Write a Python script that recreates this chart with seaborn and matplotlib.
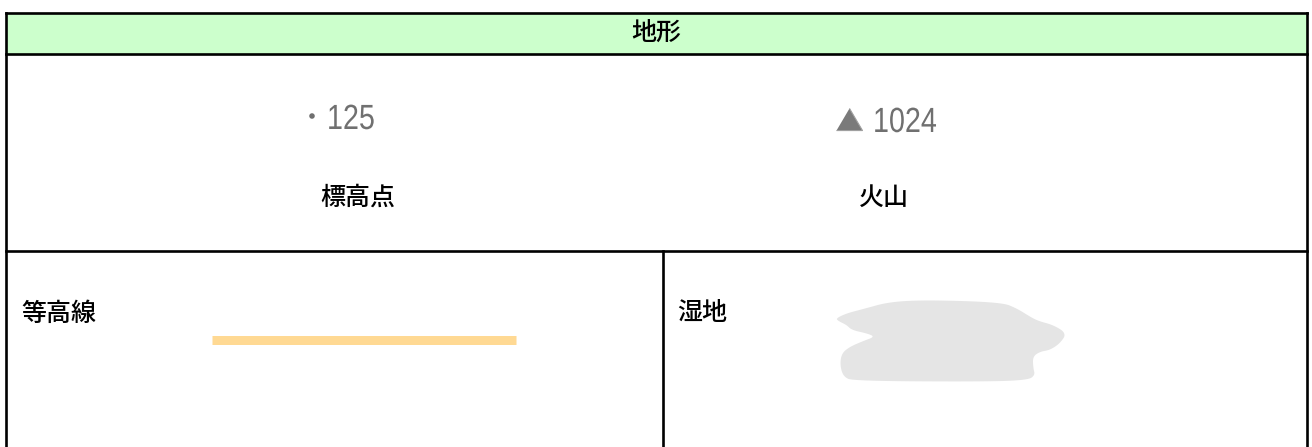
import matplotlib
matplotlib.use("Agg")
import matplotlib.pyplot as plt
from matplotlib.textpath import TextPath
from matplotlib.patches import PathPatch
from matplotlib.font_manager import FontProperties
from matplotlib.transforms import Affine2D
import seaborn as sns
import pandas as pd
import numpy as np

sns.set_theme(style="white")
plt.rcParams['font.family'] = ['Noto Sans CJK JP', 'DejaVu Sans']

# ---- content ----
title = "地形"
point_labels = ["標高点", "火山"]
point_values = ["125", "1024"]
line_label = "等高線"
area_label = "湿地"

# ---- figure in pixel coordinates ----
W, H = 1312, 447
fig = plt.figure(figsize=(W / 100, H / 100), dpi=100)
ax = fig.add_axes([0, 0, 1, 1])
ax.set_xlim(0, W)
ax.set_ylim(H, 0)
ax.axis("off")

# table frame
L, R, T, HB, RB, MID = 6, 1307, 12.5, 53.5, 251, 663
lw = 1.9
ax.fill_between([L, R], T, HB, color="#CCFFCC", zorder=0)
for xs, ys in [([L, R], [T, T]), ([L, R], [HB, HB]), ([L, R], [RB, RB]),
               ([L, L], [T, H]), ([R, R], [T, H]), ([MID, MID], [RB, H])]:
    ax.plot(xs, ys, color="black", lw=lw, solid_capstyle="projecting")

ax.text((L + R) / 2, 33, title, ha="center", va="center", fontsize=18, color="black",
        fontweight="medium")


def narrow_text(x, y_base, s, size=35, sx=0.82, color="#707070"):
    """Draw condensed text: left at x, baseline at y_base (pixel coords)."""
    tp = TextPath((0, 0), s, size=size, prop=FontProperties(family="Liberation Sans"))
    tr = Affine2D().scale(sx, -1).translate(x, y_base) + ax.transData
    ax.add_patch(PathPatch(tp, transform=tr, facecolor=color, edgecolor="none"))


# elevation point
sns.scatterplot(x=[312], y=[116], ax=ax, s=16, color="#707070", edgecolor="none", legend=False)
narrow_text(327, 129, point_values[0])
# volcano triangle
tri = [(-1, -0.85), (1, -0.85), (0, 0.85)]
sns.scatterplot(x=[849], y=[119], ax=ax, marker=tri, s=(26 * 0.72) ** 2,
                color="#7a7a7a", edgecolor="#a0a0a0", linewidth=0.8, legend=False)
narrow_text(873, 132, point_values[1])

ax.text(358, 198, point_labels[0], ha="center", va="center", fontsize=18, color="black",
        fontweight="medium")
ax.text(884, 198, point_labels[1], ha="center", va="center", fontsize=18, color="black",
        fontweight="medium")

# contour line
ax.text(21, 314, line_label, ha="left", va="center", fontsize=18, color="black",
        fontweight="medium")
line_df = pd.DataFrame({"x": [212, 516], "y": [339.5, 339.5]})
sns.lineplot(data=line_df, x="x", y="y", ax=ax, color="#FFD993", lw=9 * 0.72, legend=False)
for ln in ax.get_lines()[-1:]:
    ln.set_solid_capstyle("butt")

# wetland blob
ax.text(677, 313, area_label, ha="left", va="center", fontsize=18, color="black",
        fontweight="medium")
zx = np.array([48, 80, 130, 210, 330, 545, 590, 630, 655, 700, 740, 720, 690, 660, 638,
               640, 645, 625, 500, 100, 70, 60, 65, 90, 130, 165, 140, 95, 80, 55])
zy = np.array([100, 85, 72, 50, 45, 52, 70, 95, 108, 120, 145, 175, 195, 200, 215,
               250, 270, 285, 290, 288, 275, 240, 205, 185, 168, 155, 145, 135, 120, 108])
pts = np.column_stack([820 + zx / 3, 285 + zy / 3])
# rounded outline (Chaikin corner cutting)
for _ in range(3):
    nxt = np.roll(pts, -1, axis=0)
    q = 0.75 * pts + 0.25 * nxt
    r = 0.25 * pts + 0.75 * nxt
    pts = np.empty((2 * len(q), 2))
    pts[0::2] = q
    pts[1::2] = r
ax.fill(pts[:, 0], pts[:, 1], color="#E5E5E5", lw=0, zorder=1)

ax.set_xlim(0, W)
ax.set_ylim(H, 0)
ax.axis("off")

fig.savefig("out.png", dpi=100)
